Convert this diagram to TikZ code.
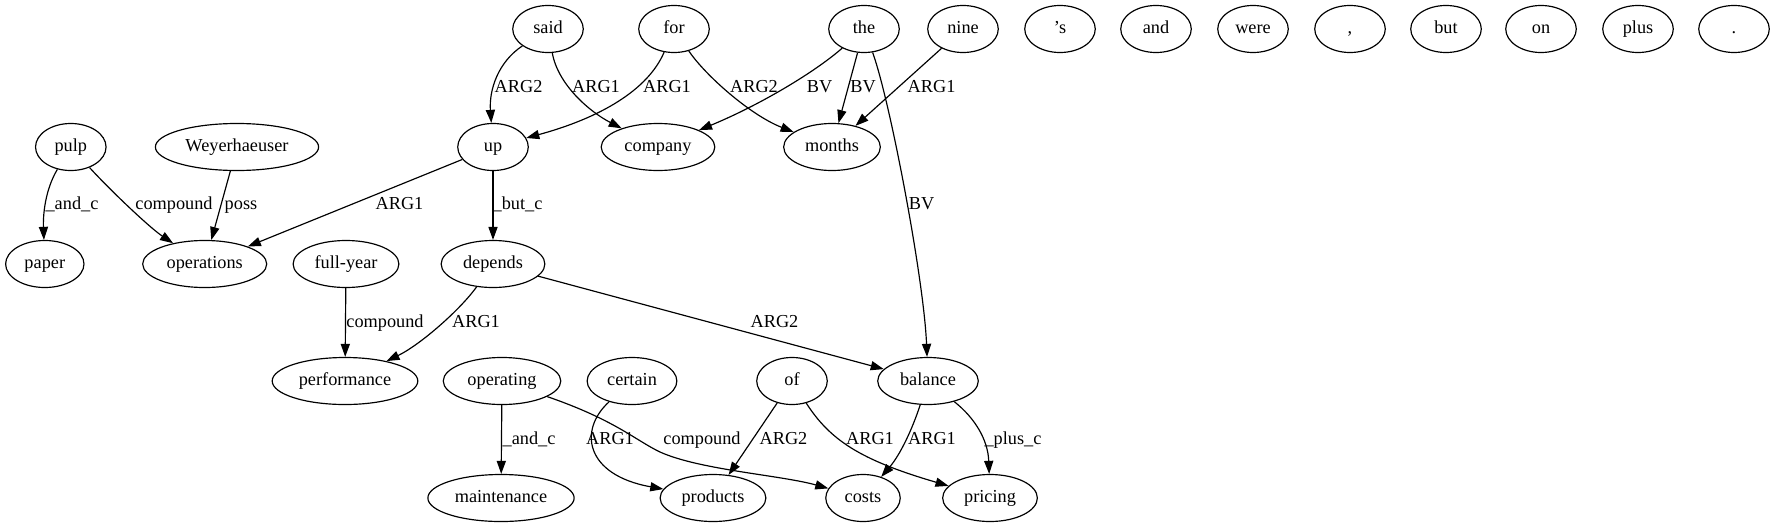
\documentclass[tikz,border=0pt]{standalone}
\usepackage{fontspec}
\setmainfont{Liberation Serif}
\usetikzlibrary{arrows.meta,shapes.geometric}
\begin{document}
\begin{tikzpicture}[x=0.7657pt,y=-0.7657pt,
  font=\rmfamily\fontsize{14}{16}\selectfont,
  nd/.style={draw, ellipse, line width=0.9pt, inner sep=0pt, minimum height=36pt, minimum width=54pt, text height=10pt, text depth=3pt},
  lbl/.style={inner sep=0pt, text height=10pt, text depth=3pt},
  ed/.style={line width=0.9pt, -{Triangle[length=10pt,width=7pt]}}]
\useasboundingbox (0,0) rectangle (1776,528);
% row 1
\node[nd] (said) at (548,29) {said};
\node[nd] (for) at (674,29) {for};
\node[nd] (the) at (864,29) {the};
\node[nd] (nine) at (963,29) {nine};
\node[nd] (s) at (1060,29) {’s};
\node[nd] (and) at (1156,29) {and};
\node[nd] (were) at (1253,29) {were};
\node[nd] (comma) at (1350,29) {,};
\node[nd] (but) at (1446,29) {but};
\node[nd] (on) at (1541,29) {on};
\node[nd] (plus) at (1638,29) {plus};
\node[nd] (dot) at (1734,29) {.};
% row 2
\node[nd] (pulp) at (70.8,147) {pulp};
\node[nd, minimum width=125pt] (weyer) at (237,147) {Weyerhaeuser};
\node[nd] (up) at (493,147) {up};
\node[nd, minimum width=87pt] (company) at (658,147) {company};
\node[nd, minimum width=74pt] (months) at (832,147) {months};
% row 3
\node[nd, minimum width=60pt] (paper) at (44.8,264) {paper};
\node[nd, minimum width=95pt] (operations) at (204.7,264) {operations};
\node[nd, minimum width=81pt] (fullyear) at (346,264) {full-year};
\node[nd, minimum width=79.4pt] (depends) at (493,264) {depends};
% row 4
\node[nd, minimum width=111.5pt] (performance) at (345,381) {performance};
\node[nd, minimum width=90pt] (operating) at (502,381) {operating};
\node[nd, minimum width=68.7pt] (certain) at (632,381) {certain};
\node[nd] (of) at (792,381) {of};
\node[nd, minimum width=77pt] (balance) at (928,381) {balance};
% row 5
\node[nd, minimum width=112pt] (maintenance) at (501,498) {maintenance};
\node[nd, minimum width=81pt] (products) at (713,498) {products};
\node[nd, minimum width=57pt] (costs) at (863,498) {costs};
\node[nd, minimum width=72.5pt] (pricing) at (990,498) {pricing};

% edges
\draw[ed] (said) .. controls (498,62) and (489,90) .. (up);
\draw[ed] (said) .. controls (558,85) and (590,112) .. (company);
\draw[ed] (for) .. controls (648,90) and (600,118) .. (up);
\draw[ed] (for) .. controls (705,75) and (750,115) .. (months);
\draw[ed] (the) .. controls (815,72) and (760,105) .. (company);
\draw[ed] (the) -- (months);
\draw[ed] (nine) -- (months);
\draw[ed] (the) .. controls (890,100) and (924,280) .. (balance);
\draw[ed] (up) -- (operations);
\draw[ed] (up) -- (depends);
\draw[ed] (pulp) .. controls (45,190) and (43,215) .. (paper);
\draw[ed] (pulp) .. controls (110,190) and (150,228) .. (operations);
\draw[ed] (weyer) -- (operations);
\draw[ed] (fullyear) -- (performance);
\draw[ed] (depends) .. controls (460,310) and (420,345) .. (performance);
\draw[ed] (depends) -- (balance);
\draw[ed] (operating) -- (maintenance);
\coordinate (cm) at (660,452);
\draw[ed] (operating) .. controls (615,420) and (635,440) .. (cm) .. controls (700,470) and (780,475) .. (costs);
\draw[ed] (certain) .. controls (578,430) and (585,475) .. (products);
\draw[ed] (of) -- (products);
\draw[ed] (of) .. controls (830,440) and (860,460) .. (pricing);
\draw[ed] (balance) .. controls (912,430) and (900,455) .. (costs);
\draw[ed] (balance) .. controls (975,418) and (988,440) .. (pricing);

% labels
\node[lbl] (l1) at (518.6,88) {ARG2};
\node[lbl] (l2) at (596,88) {ARG1};
\node[lbl] (l3) at (667,88) {ARG1};
\node[lbl] (l4) at (754,88) {ARG2};
\node[lbl] (l5) at (819.5,88) {BV};
\node[lbl] (l6) at (863,88) {BV};
\node[lbl] (l7) at (931.6,88) {ARG1};
\node[lbl] (l8) at (921.6,205) {BV};
\node[lbl] (l9) at (399.5,205) {ARG1};
\node[lbl] (l10) at (517.5,205) {\_but\_c};
\node[lbl] (l11) at (72,205) {\_and\_c};
\node[lbl] (l12) at (174,205) {compound};
\node[lbl] (l13) at (241,205) {poss};
\node[lbl] (l14) at (385,323) {compound};
\node[lbl] (l15) at (476,323) {ARG1};
\node[lbl] (l16) at (774.5,323) {ARG2};
\node[lbl] (l17) at (529,440) {\_and\_c};
\node[lbl] (l18) at (610,440) {ARG1};
\node[lbl] (l19) at (702,440) {compound};
\node[lbl] (l20) at (783.5,440) {ARG2};
\node[lbl] (l21) at (870,440) {ARG1};
\node[lbl] (l22) at (932,440) {ARG1};
\node[lbl] (l23) at (1013,440) {\_plus\_c};
\end{tikzpicture}
\end{document}
